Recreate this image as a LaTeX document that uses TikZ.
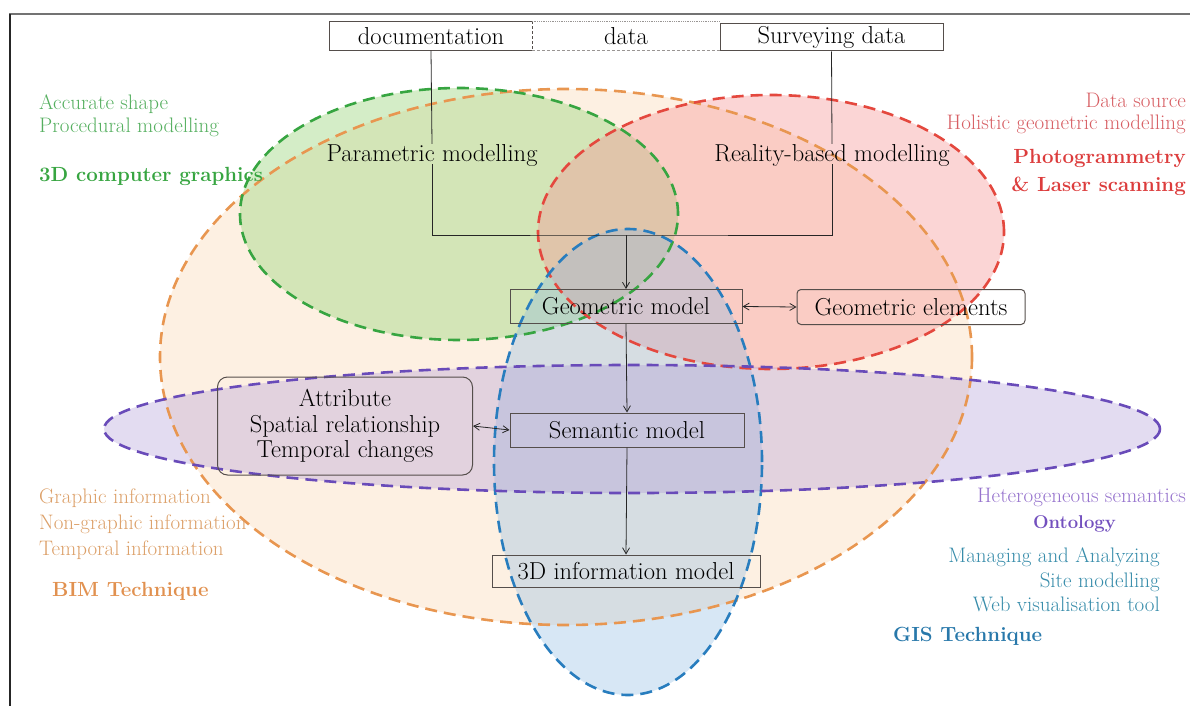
\documentclass[tikz,border=0pt]{standalone}
\usetikzlibrary{arrows.meta}
\definecolor{cgreen}{RGB}{55,165,65}
\definecolor{cgreenf}{RGB}{160,215,130}
\definecolor{cred}{RGB}{228,72,62}
\definecolor{credf}{RGB}{245,150,150}
\definecolor{corange}{RGB}{232,150,80}
\definecolor{corangef}{RGB}{250,205,160}
\definecolor{cblue}{RGB}{40,125,190}
\definecolor{cbluef}{RGB}{140,185,225}
\definecolor{cpurple}{RGB}{105,75,185}
\definecolor{cpurplef}{RGB}{175,155,215}
\definecolor{boxline}{RGB}{85,78,75}
\definecolor{tgreen}{RGB}{85,175,95}
\definecolor{tred}{RGB}{215,95,100}
\definecolor{tredb}{RGB}{220,60,60}
\definecolor{torange}{RGB}{220,160,105}
\definecolor{torangeb}{RGB}{225,145,80}
\definecolor{tpurple}{RGB}{150,115,205}
\definecolor{tpurpleb}{RGB}{115,80,190}
\definecolor{tblue}{RGB}{55,140,170}
\definecolor{tblueb}{RGB}{40,120,170}
\begin{document}
\begin{tikzpicture}[x=1pt,y=-1pt,
  region/.style={dash pattern=on 12pt off 7pt, line width=2.6pt},
  boxfont/.style={font=\fontsize{24.5}{26}\selectfont},
  modelbox/.style={draw=boxline, line width=1pt, inner sep=0pt, boxfont},
  plain/.style={inner sep=0pt, boxfont},
  lab/.style={inner sep=0pt, font=\fontsize{21}{22}\selectfont},
  blab/.style={inner sep=0pt, font=\fontsize{20.5}{22}\selectfont\bfseries},
  conn/.style={draw=black!85, line width=0.8pt},
  arr/.style={conn, -{Straight Barb[length=6pt,width=7pt]}},
  darr/.style={conn, {Straight Barb[length=6pt,width=7pt]}-{Straight Barb[length=6pt,width=7pt]}}
]
\useasboundingbox (0,0) rectangle (1190,706);
% frame
\draw[black!55, line width=2pt] (9,14) -- (1190,14);
\draw[black!85, line width=1.5pt] (10,14) -- (10,706);

% regions
\fill[corangef, fill opacity=0.3] (566,357) ellipse [x radius=406pt, y radius=268pt];
\fill[cgreenf, fill opacity=0.45] (459,214) ellipse [x radius=219pt, y radius=126pt];
\fill[credf, fill opacity=0.4] (771,232) ellipse [x radius=233pt, y radius=137pt];
\fill[cbluef, fill opacity=0.35] (628,462) ellipse [x radius=134pt, y radius=233pt];
\fill[cpurplef, fill opacity=0.35] (632,429) ellipse [x radius=528pt, y radius=64pt];
\draw[region, corange] (566,357) ellipse [x radius=406pt, y radius=268pt];
\draw[region, cgreen] (459,214) ellipse [x radius=219pt, y radius=126pt];
\draw[region, cred] (771,232) ellipse [x radius=233pt, y radius=137pt];
\draw[region, cblue] (628,462) ellipse [x radius=134pt, y radius=233pt];
\draw[region, cpurple] (632,429) ellipse [x radius=528pt, y radius=64pt];

% top boxes
\node[plain, fill=white, minimum width=202pt, minimum height=29pt] (doc) at (431,36) {documentation};
\node[plain, fill=white, minimum width=188pt, minimum height=29pt] (data) at (626,36) {data};
\node[modelbox, fill=white, minimum width=223pt, minimum height=27pt] (surv) at (831.5,37.5) {Surveying data};
\draw[boxline, line width=1pt] (doc.north east) -- (doc.north west) -- (doc.south west) -- (doc.south east);
\draw[boxline, line width=1pt, densely dashed] (doc.north east) -- (doc.south east);
\draw[boxline!60, line width=0.8pt, densely dotted] (data.north west) -- (data.north east);
\draw[boxline!60, line width=0.8pt, densely dashed] (data.south west) -- (data.south east);

% modelling labels
\node[plain] (param) at (432,155) {Parametric modelling};
\node[plain] (real) at (832,155) {Reality-based modelling};
\coordinate (j) at (626,235);

% model boxes
\node[modelbox, minimum width=232pt, minimum height=34pt] (geo) at (626,306.5) {Geometric model};
\node[modelbox, rounded corners=4pt, minimum width=228pt, minimum height=35pt] (gel) at (911,307) {Geometric elements};
\node[modelbox, minimum width=234pt, minimum height=34pt] (sem) at (627,430) {Semantic model};
\node[modelbox, rounded corners=10pt, minimum width=255pt, minimum height=98pt, align=center, font=\fontsize{24.5}{25.5}\selectfont] (attr) at (345,426) {Attribute\\Spatial relationship\\Temporal changes};
\node[modelbox, minimum width=268pt, minimum height=32pt] (info) at (626,571) {3D information model};

% connectors
\draw[conn] (doc.south) -- (param.north);
\draw[conn] (surv.south) -- (real.north);
\draw[conn] ([yshift=2pt]param.south) |- (j) -| ([yshift=2pt]real.south);
\draw[arr] (j) -- (geo.north);
\draw[darr] (geo.east) -- (gel.west);
\draw[arr] (geo.south) -- (sem.north);
\draw[darr] (attr.east) -- (sem.west);
\draw[arr] (sem.south) -- (info.north);

% green labels
\node[lab, text=tgreen, anchor=base west] (g1) at (39,110) {Accurate shape};
\node[lab, text=tgreen, anchor=base west] (g2) at (39,132) {Procedural modelling};
\node[blab, text=cgreen, anchor=base west] (g3) at (39,181) {3D computer graphics};

% red labels
\node[lab, text=tred, anchor=base east] (r1) at (1186,108) {Data source};
\node[lab, text=tred, anchor=base east] (r2) at (1186,129) {Holistic geometric modelling};
\node[blab, text=tredb, anchor=base east] (r3) at (1186,163) {Photogrammetry};
\node[blab, text=tredb, anchor=base east] (r4) at (1186,191) {\& Laser scanning};

% orange labels
\node[lab, text=torange, anchor=base west] (o1) at (39,503) {Graphic information};
\node[lab, text=torange, anchor=base west] (o2) at (39,529) {Non-graphic information};
\node[lab, text=torange, anchor=base west] (o3) at (39,555) {Temporal information};
\node[blab, text=torangeb, anchor=base west] (o4) at (52,596) {BIM Technique};

% purple labels
\node[lab, text=tpurple, anchor=base east] (p1) at (1186,502) {Heterogeneous semantics};
\node[blab, text=tpurpleb, anchor=base east, font=\fontsize{18.5}{20}\selectfont\bfseries] (p2) at (1116,528) {Ontology};

% blue labels
\node[lab, text=tblue, anchor=base east] (b1) at (1160,562) {Managing and Analyzing};
\node[lab, text=tblue, anchor=base east] (b2) at (1160,587) {Site modelling};
\node[lab, text=tblue, anchor=base east] (b3) at (1160,611) {Web visualisation tool};
\node[blab, text=tblueb, anchor=base west] (b4) at (893,641) {GIS Technique};
\end{tikzpicture}
\end{document}
